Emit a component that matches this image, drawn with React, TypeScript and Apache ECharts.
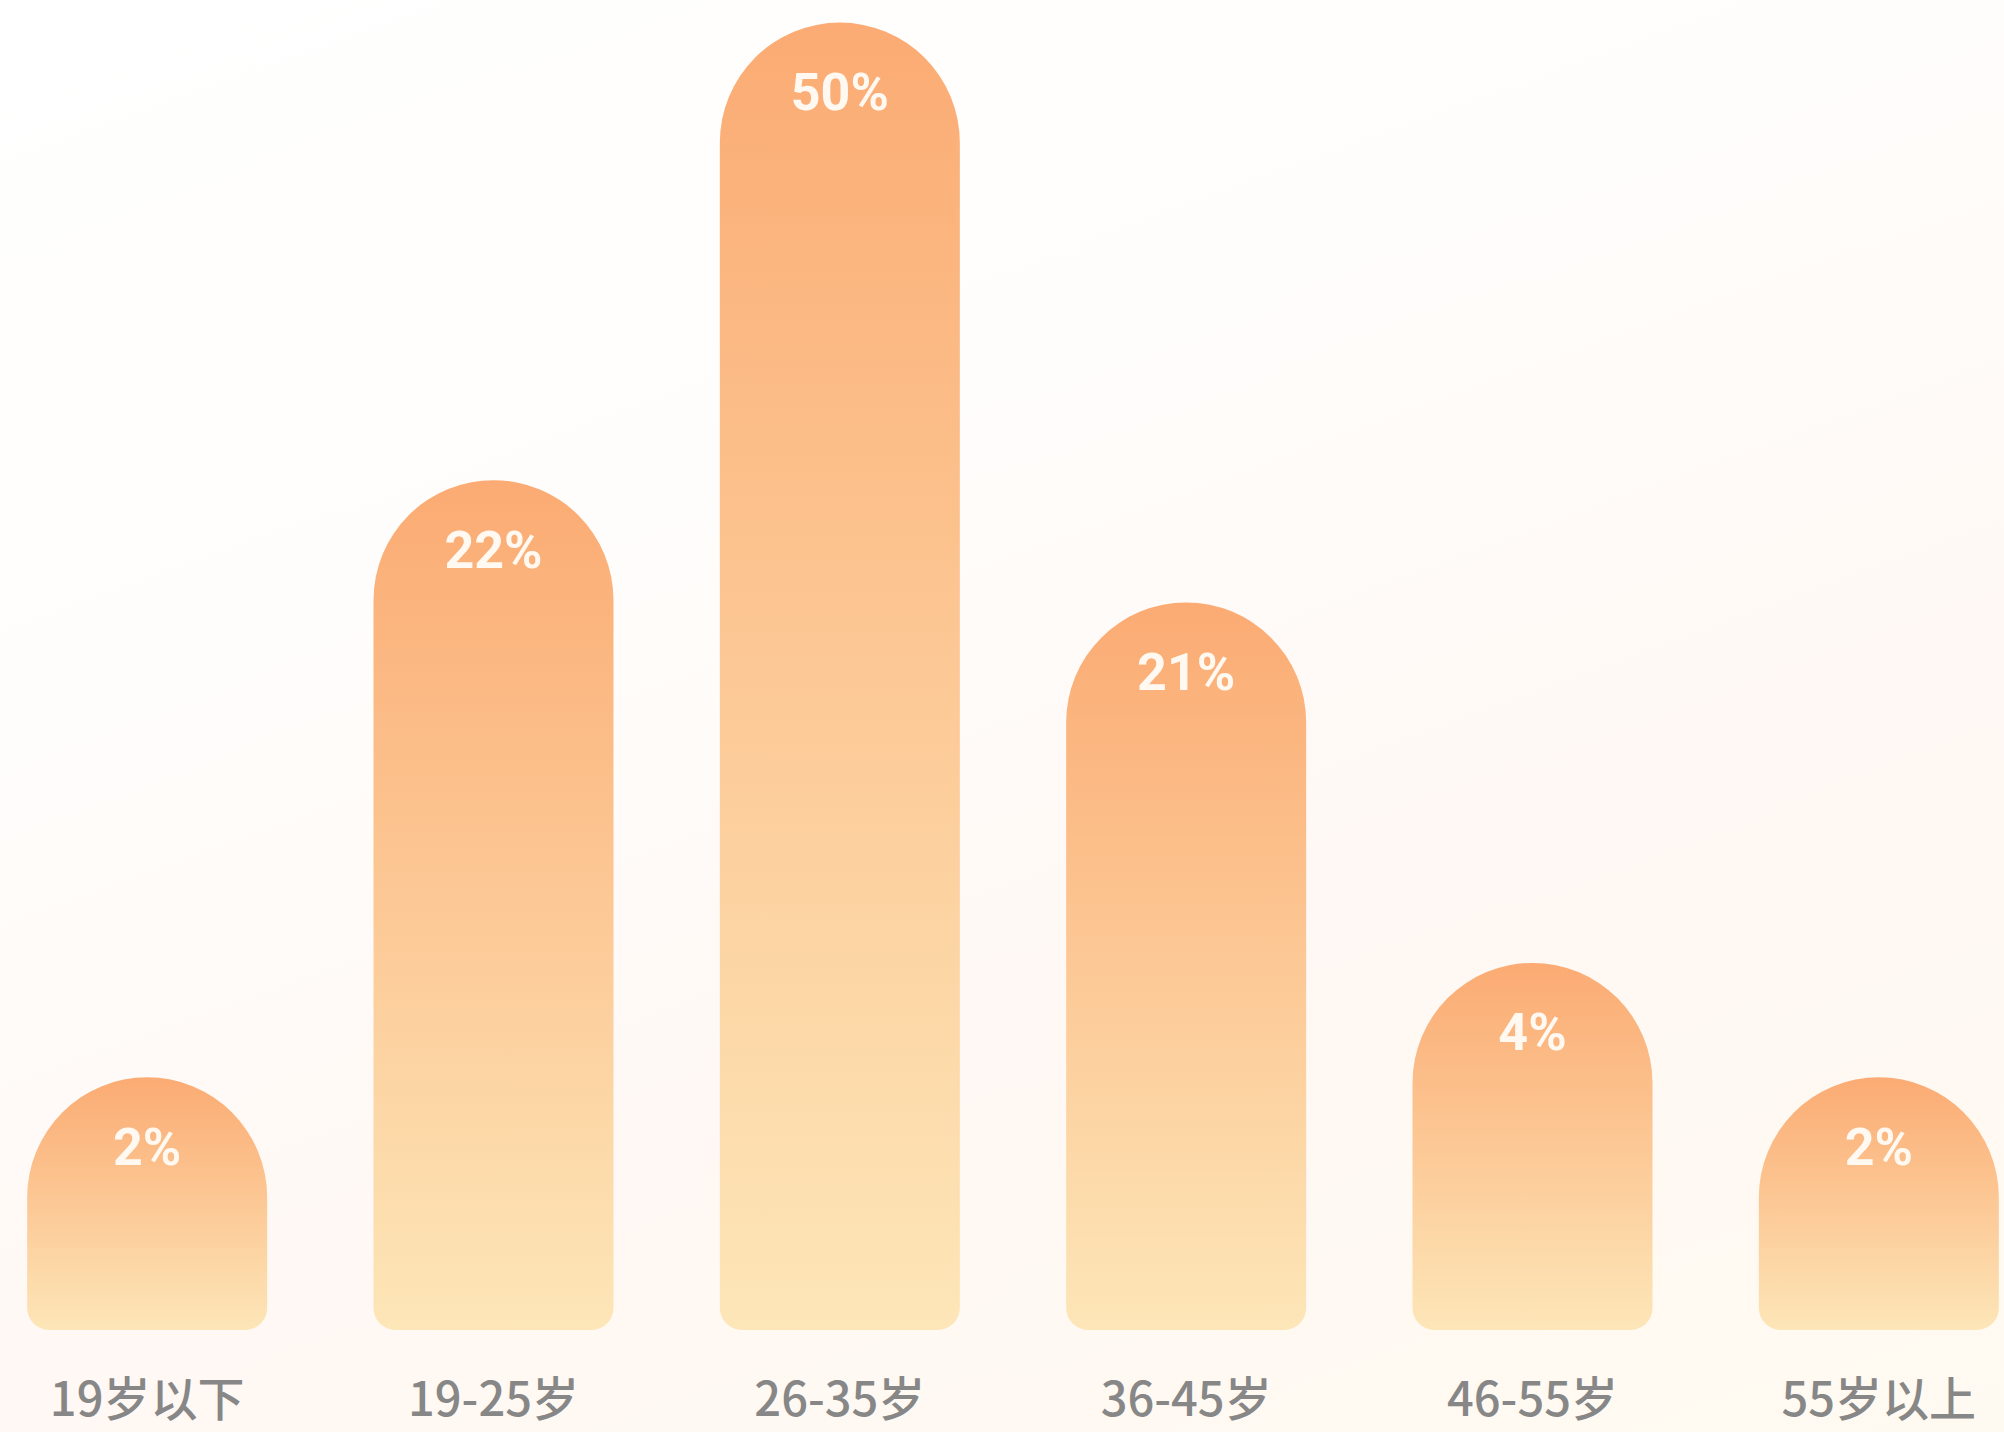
import React, { useEffect, useRef } from "react";
import * as echarts from "echarts";

const categories = ["19岁以下", "19-25岁", "26-35岁", "36-45岁", "46-55岁", "55岁以上"];
const percentLabels = ["2%", "22%", "50%", "21%", "4%", "2%"];
// displayed bar heights (stylised, scale 0-100)
const barHeights = [19, 63.9, 98.3, 54.7, 27.6, 19];

export default function App() {
  const ref = useRef<HTMLDivElement>(null);
  useEffect(() => {
    if (!ref.current) return;
    const chart = echarts.init(ref.current, null, { renderer: "svg" });
    chart.setOption({
      animation: false,
      backgroundColor: "transparent",
      grid: {
        left: 0,
        right: 0,
        top: 0,
        height: 1330,
        containLabel: false,
        outerBoundsMode: "none",
      },
      xAxis: {
        type: "category",
        data: categories,
        axisLine: { show: false },
        axisTick: { show: false },
        axisLabel: {
          color: "#878787",
          fontSize: 47,
          fontWeight: 500,
          fontFamily: "Noto Sans CJK SC",
          margin: 42,
          lineHeight: 47,
        },
      },
      yAxis: {
        type: "value",
        min: 0,
        max: 100,
        show: false,
        splitLine: { show: false },
      },
      series: [
        {
          type: "bar",
          data: barHeights,
          barWidth: 240,
          itemStyle: {
            borderRadius: [120, 120, 22, 22],
            color: new echarts.graphic.LinearGradient(0, 0, 0, 1, [
              { offset: 0, color: "#FBAB73" },
              { offset: 1, color: "#FDE6B8" },
            ]),
          },
          label: {
            show: true,
            position: "insideTop",
            distance: 44,
            color: "#FFF9F2",
            fontSize: 52,
            lineHeight: 52,
            fontWeight: "bold",
            fontFamily: "Roboto",
            formatter: (p: any) => percentLabels[p.dataIndex],
          },
        },
      ],
    });
    return () => chart.dispose();
  }, []);
  return (
    <div
      style={{
        position: "fixed",
        left: 0,
        top: 0,
        width: 2004,
        height: 1432,
        overflow: "hidden",
        background:
          "linear-gradient(160deg, #ffffff 0%, #fffdfb 35%, #fff8f4 65%, #fffaf1 100%)",
      }}
    >
      <div
        ref={ref}
        style={{ position: "absolute", left: -26, top: 0, width: 2078, height: 1432 }}
      />
    </div>
  );
}
